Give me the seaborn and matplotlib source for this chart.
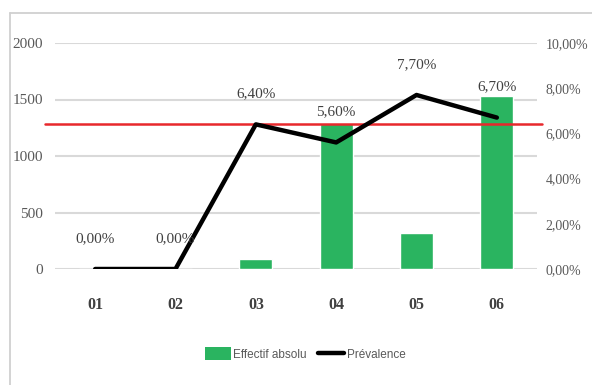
import numpy as np
import pandas as pd
import matplotlib
matplotlib.use("Agg")
import matplotlib.pyplot as plt
from matplotlib.lines import Line2D
from matplotlib.patches import Patch
import seaborn as sns

# Data
categories = ["01", "02", "03", "04", "05", "06"]
effectif = [0, 0, 90, 1290, 320, 1535]
prevalence = [0.0, 0.0, 6.4, 5.6, 7.7, 6.7]   # percent
reference_rate = 6.4                         # percent, horizontal red line
left_ticks = [0, 500, 1000, 1500, 2000]
right_ticks = [0, 2, 4, 6, 8, 10]

sns.set_theme(style="white")
plt.rcParams["font.family"] = ["Liberation Serif", "DejaVu Serif"]

GREEN = "#2AB460"
GRID = "#D9D9D9"
TXT = "#595959"

df = pd.DataFrame({"cat": categories, "effectif": effectif})

fig = plt.figure(figsize=(5.92, 3.85), dpi=100)
ax = fig.add_axes([55 / 592, 1 - 269 / 385, 482 / 592, 226 / 385])

sns.barplot(data=df, x="cat", y="effectif", color=GREEN, saturation=1,
            width=0.41, ax=ax, zorder=2)
ax.set_ylim(0, 2000)
ax.set_xlim(-0.5, len(categories) - 0.5)
ax.set_yticks(left_ticks)
ax.set_yticklabels([str(t) for t in left_ticks])
ax.yaxis.grid(True, color=GRID, linewidth=1.5)
ax.set_axisbelow(True)
for s in ax.spines.values():
    s.set_visible(False)
ax.set_xlabel("")
ax.set_ylabel("")
ax.tick_params(axis="y", length=0, pad=8.5, labelsize=11, labelcolor=TXT)
ax.tick_params(axis="x", length=0, pad=20, labelsize=11.5, labelcolor="#404040")
for lab in ax.get_xticklabels():
    lab.set_fontweight("bold")

# Prevalence on secondary axis
ax2 = ax.twinx()
x = np.arange(len(categories))
sns.lineplot(x=x, y=prevalence, ax=ax2, color="black", linewidth=3.2,
             zorder=4, legend=False)
ax2.set_ylim(0, 10)
ax2.set_yticks(right_ticks)
ax2.set_yticklabels([f"{t:.2f}%".replace(".", ",") for t in right_ticks])
ax2.tick_params(axis="y", length=0, pad=6, labelsize=10, labelcolor=TXT)
for s in ax2.spines.values():
    s.set_visible(False)
ax2.grid(False)

ax2.axhline(reference_rate, xmin=-0.02, xmax=1.01, color="#E8282C",
            linewidth=1.8, zorder=3, clip_on=False)

for xi, v in zip(x, prevalence):
    ax2.annotate(f"{v:.2f}%".replace(".", ","), (xi, v), xytext=(0, 22),
                 textcoords="offset points", ha="center", va="center",
                 fontsize=11, color="#404040", zorder=5)

# Legend
handles = [Patch(facecolor=GREEN, edgecolor="none"),
           Line2D([], [], color="black", linewidth=3.2)]
fig.legend(handles, ["Effectif absolu", "Prévalence"], loc="center",
           bbox_to_anchor=(305 / 592, 1 - 354 / 385), ncol=2, frameon=False,
           prop={"family": ["Liberation Sans Narrow", "Liberation Sans"], "size": 8.5},
           labelcolor=TXT, handlelength=2.2, handleheight=1.2,
           handletextpad=0.2, columnspacing=1.0)

# Chart frame
fig.add_artist(Line2D([10 / 592, 1], [1 - 13 / 385] * 2,
                      transform=fig.transFigure, color="#D0D0D0", linewidth=1.3))
fig.add_artist(Line2D([10 / 592] * 2, [0, 1 - 13 / 385],
                      transform=fig.transFigure, color="#D0D0D0", linewidth=1.3))

fig.savefig("out.png", dpi=100)
